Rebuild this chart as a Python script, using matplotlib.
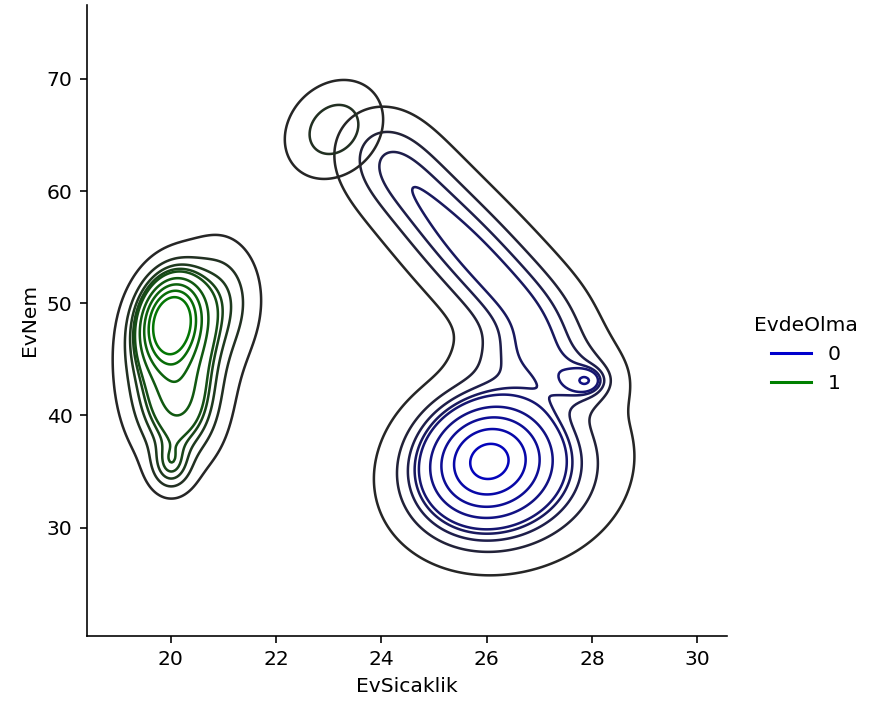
import numpy as np
import matplotlib
matplotlib.use("Agg")
import matplotlib.pyplot as plt
from matplotlib.colors import LinearSegmentedColormap
from matplotlib.lines import Line2D

# ---- labels / categories ----
x_label = "EvSicaklik"
y_label = "EvNem"
hue_title = "EvdeOlma"
hue_levels = ["0", "1"]
hue_colors = ["mediumblue", "green"]
x_ticks = [20, 22, 24, 26, 28, 30]
y_ticks = [30, 40, 50, 60, 70]

# ---- density components (group "0") ----
g0_cx = [26.0, 26.4, 27.9, 27.7, 26.8,
         24.0, 24.44, 24.89, 25.33, 25.77, 26.21, 26.66, 27.1, 26.2]
g0_cy = [36.2, 34.5, 43.1, 43.0, 45.0,
         63.5, 61.2, 58.9, 56.6, 54.4, 52.1, 49.8, 47.5, 52.0]
g0_sx = [0.75, 1.15, 0.20, 0.45, 0.80,
         0.55, 0.55, 0.55, 0.55, 0.55, 0.55, 0.55, 0.55, 1.50]
g0_sy = [3.30, 4.20, 0.70, 1.60, 2.00,
         2.58, 2.58, 2.58, 2.58, 2.58, 2.58, 2.58, 2.58, 7.03]
g0_rho = [0.1, 0.1, 0.0, 0.0, 0.0,
          0.0, 0.0, 0.0, 0.0, 0.0, 0.0, 0.0, 0.0, -0.78]
g0_w = [0.28, 0.20, 0.004, 0.015, 0.025,
        0.02, 0.02, 0.02, 0.02, 0.02, 0.02, 0.02, 0.02, 0.06]

# ---- density components (group "1") ----
g1_cx = [20.0, 20.12, 20.15, 20.0, 20.95, 23.1]
g1_cy = [48.4, 45.5, 40.5, 35.5, 50.5, 65.5]
g1_sx = [0.34, 0.55, 0.45, 0.25, 0.45, 0.55]
g1_sy = [2.30, 4.00, 3.00, 1.50, 3.20, 2.60]
g1_rho = [0.15, 0.1, 0.0, 0.0, 0.0, 0.2]
g1_w = [0.13, 0.12, 0.05, 0.01, 0.03, 0.032]

plt.rcParams.update({
    "font.family": ["DejaVu Sans"],
    "font.size": 10,
    "axes.linewidth": 0.8,
})

fig = plt.figure(figsize=(876 / 146, 709 / 146), dpi=146)
ax = fig.add_axes([0.099, 0.1034, 0.7306, 0.8896])

xx = np.linspace(18.4, 30.6, 400)
yy = np.linspace(18.0, 78.0, 400)
X, Y = np.meshgrid(xx, yy)


def mixture(cx, cy, sx, sy, rho, w):
    Z = np.zeros_like(X)
    for a, b, s1, s2, r, ww in zip(cx, cy, sx, sy, rho, w):
        dx = (X - a) / s1
        dy = (Y - b) / s2
        q = (dx ** 2 - 2 * r * dx * dy + dy ** 2) / (1 - r ** 2)
        Z += ww * np.exp(-0.5 * q) / (2 * np.pi * s1 * s2 * np.sqrt(1 - r ** 2))
    return Z


Z0 = mixture(g0_cx, g0_cy, g0_sx, g0_sy, g0_rho, g0_w)
Z1 = mixture(g1_cx, g1_cy, g1_sx, g1_sy, g1_rho, g1_w)

# iso-proportion levels (common normalisation), as seaborn does
iso = np.linspace(0.05, 1, 10)
vals = np.concatenate([Z0.ravel(), Z1.ravel()])
sv = np.sort(vals)[::-1]
cum = np.cumsum(sv) / vals.sum()
idx = np.searchsorted(cum, 1 - iso)
levels = np.unique(np.take(sv, idx, mode="clip"))
frac = np.linspace(0, 1, len(levels))

for Z, col in zip([Z0, Z1], hue_colors):
    cmap = LinearSegmentedColormap.from_list("c", ["#262626", col])
    ax.contour(X, Y, Z, levels=levels, colors=[cmap(f) for f in frac],
               linewidths=1.25)

ax.set_xlim(18.405, 30.558)
ax.set_ylim(20.36, 76.6)
ax.set_xticks(x_ticks)
ax.set_yticks(y_ticks)
ax.set_xlabel(x_label)
ax.set_ylabel(y_label)
ax.spines["top"].set_visible(False)
ax.spines["right"].set_visible(False)

handles = [Line2D([], [], color=c, lw=1.5) for c in hue_colors]
fig.legend(handles, hue_levels, title=hue_title, loc="center right",
           bbox_to_anchor=(1.0, 0.5), frameon=False)

fig.savefig("out.png", dpi=146)
